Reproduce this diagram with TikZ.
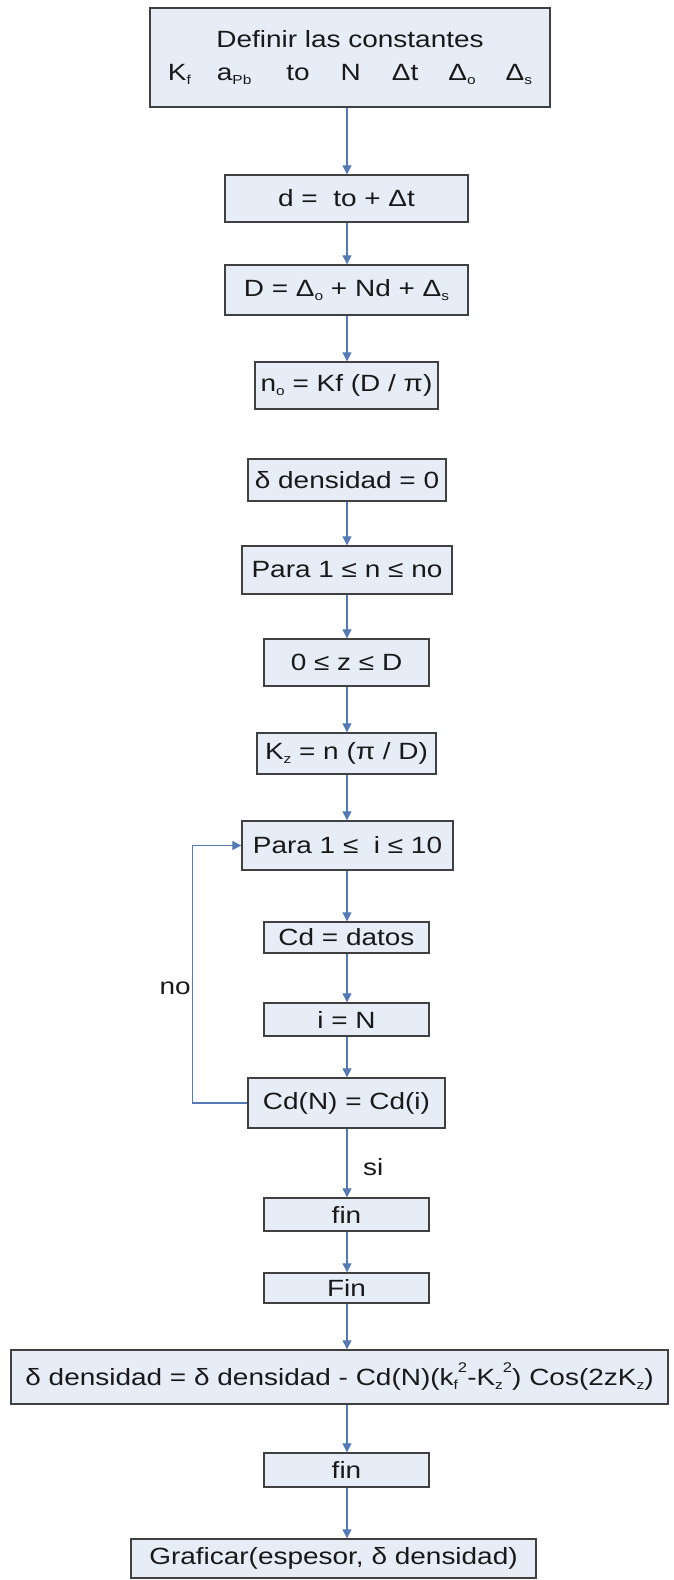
\documentclass[tikz,border=0pt]{standalone}
\usepackage{fontspec}
\setmainfont{Liberation Sans}[FakeStretch=1.19]
\usetikzlibrary{arrows.meta}
\definecolor{boxfill}{RGB}{230,237,247}
\definecolor{boxline}{RGB}{64,64,64}
\definecolor{arrcol}{RGB}{84,122,180}
\newcommand\mysub[1]{\raisebox{-0.3ex}{\fontsize{13}{13}\selectfont #1}}
\newcommand\mysup[1]{\raisebox{1.05ex}{\fontsize{14}{14}\selectfont #1}}
\begin{document}
\begin{tikzpicture}[x=1pt,y=-1pt,
  bx/.style={draw=boxline, fill=boxfill, line width=1.4pt, inner sep=0pt,
    font=\fontsize{23.5}{28}\selectfont, text=black!90},
  arr/.style={draw=arrcol, line width=1.3pt, -{Triangle[length=9pt,width=9pt]}},
  lbl/.style={font=\fontsize{23.5}{28}\selectfont, inner sep=0pt, text=black!90}]
\useasboundingbox (0,0) rectangle (673,1580);
\coordinate (ax) at (347,0);

\node[bx, minimum width=400pt, minimum height=99pt, align=center] (top) at (350,57.5)
  {Definir las constantes\\[5pt]
   K\mysub{f}\hspace{26pt}a\mysub{Pb}\hspace{35pt}to\hspace{31pt}N\hspace{31pt}Δt\hspace{30pt}Δ\mysub{o}\hspace{30pt}Δ\mysub{s}};
\node[bx, minimum width=243pt, minimum height=47pt] (d) at (346.5,198.5) {d = \ to + Δt};
\node[bx, minimum width=243pt, minimum height=50pt] (D) at (346.5,290) {D = Δ\mysub{o} + Nd + Δ\mysub{s}};
\node[bx, minimum width=183pt, minimum height=47pt] (no) at (346.5,385.5) {n\mysub{o} = Kf (D / π)};
\node[bx, minimum width=198pt, minimum height=42pt] (dd) at (347,480) {δ densidad = 0};
\node[bx, minimum width=210pt, minimum height=48pt] (paran) at (347,570) {Para 1 ≤ n ≤ no};
\node[bx, minimum width=165pt, minimum height=47pt] (z) at (346.5,662.5) {0 ≤ z ≤ D};
\node[bx, minimum width=179pt, minimum height=41pt] (kz) at (346.5,753.5) {K\mysub{z} = n (π / D)};
\node[bx, minimum width=211pt, minimum height=49pt] (parai) at (347.5,845.5) {Para 1 ≤ \ i ≤ 10};
\node[bx, minimum width=165pt, minimum height=31pt] (cd) at (346.5,937.5) {Cd = datos};
\node[bx, minimum width=165pt, minimum height=33pt] (iN) at (346.5,1019.5) {i = N};
\node[bx, minimum width=197pt, minimum height=50pt] (cdn) at (346.5,1103) {Cd(N) = Cd(i)};
\node[bx, minimum width=165pt, minimum height=33pt] (fina) at (346.5,1214.5) {fin};
\node[bx, minimum width=165pt, minimum height=30pt] (Fin) at (346.5,1288) {Fin};
\node[bx, minimum width=657pt, minimum height=54pt] (big) at (339.5,1377)
  {δ densidad = δ densidad - Cd(N)(k\mysub{f}\mysup{2}-K\mysub{z}\mysup{2}) Cos(2zK\mysub{z})};
\node[bx, minimum width=165pt, minimum height=34pt] (finb) at (346.5,1470) {fin};
\node[bx, minimum width=405pt, minimum height=39pt] (graf) at (333.5,1558.5) {Graficar(espesor, δ densidad)};

\draw[arr] (top.south -| ax) -- (d.north -| ax);
\draw[arr] (d.south -| ax) -- (D.north -| ax);
\draw[arr] (D.south -| ax) -- (no.north -| ax);
\draw[arr] (dd.south -| ax) -- (paran.north -| ax);
\draw[arr] (paran.south -| ax) -- (z.north -| ax);
\draw[arr] (z.south -| ax) -- (kz.north -| ax);
\draw[arr] (kz.south -| ax) -- (parai.north -| ax);
\draw[arr] (parai.south -| ax) -- (cd.north -| ax);
\draw[arr] (cd.south -| ax) -- (iN.north -| ax);
\draw[arr] (iN.south -| ax) -- (cdn.north -| ax);
\draw[arr] (cdn.south -| ax) -- (fina.north -| ax);
\draw[arr] (fina.south -| ax) -- (Fin.north -| ax);
\draw[arr] (Fin.south -| ax) -- (big.north -| ax);
\draw[arr] (big.south -| ax) -- (finb.north -| ax);
\draw[arr] (finb.south -| ax) -- (graf.north -| ax);
\draw[arr] (cdn.west) -- ++(-55,0) |- (parai.west);

\node[lbl, anchor=east] (nolbl) at (191,988) {no};
\node[lbl, anchor=west] (silbl) at (363,1167) {si};
\end{tikzpicture}
\end{document}
